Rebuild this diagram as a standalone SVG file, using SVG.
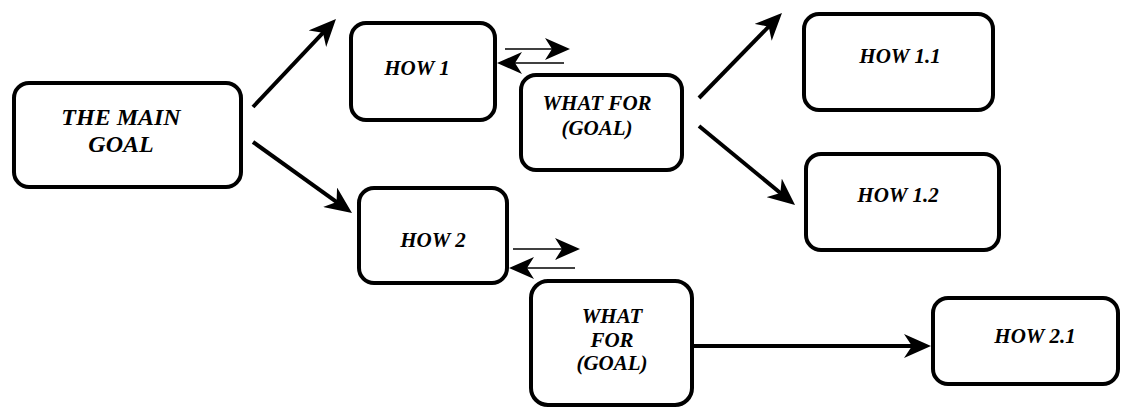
<svg xmlns="http://www.w3.org/2000/svg" width="1128" height="408" viewBox="0 0 1128 408">
  <style>
    .box { fill: #ffffff; stroke: #000000; stroke-width: 4; }
    .lbl { font-family: 'Liberation Serif', 'DejaVu Serif', serif; font-weight: 700; font-style: italic; font-size: 21px; fill: #000000; text-anchor: middle; }
    .big { font-size: 24px; }
    .thick { stroke: #000000; stroke-width: 4; fill: none; marker-end: url(#headBig); }
    .thin { stroke: #000000; stroke-width: 1.6; fill: none; marker-end: url(#headSmall); }
  </style>
  <defs>
    <marker id="headBig" markerUnits="userSpaceOnUse" viewBox="0 0 27 24" markerWidth="27" markerHeight="24" refX="10" refY="12" orient="auto">
      <path d="M0,0 L27,12 L0,24 L8,12 Z" fill="#000000"/>
    </marker>
    <marker id="headSmall" markerUnits="userSpaceOnUse" viewBox="0 0 25 22" markerWidth="25" markerHeight="22" refX="8" refY="11" orient="auto">
      <path d="M0,0 L25,11 L0,22 L7,11 Z" fill="#000000"/>
    </marker>
  </defs>
  <rect width="1128" height="408" fill="#ffffff"/>

  <g id="connectors">
    <line class="thick" x1="253" y1="107" x2="324.3" y2="31.4"/>
    <line class="thick" x1="253" y1="142" x2="338.2" y2="203.1"/>
    <line class="thick" x1="699" y1="98" x2="770.1" y2="25.2"/>
    <line class="thick" x1="699" y1="126" x2="781.9" y2="194.2"/>
    <line class="thick" x1="692" y1="346" x2="914" y2="346"/>
    <line class="thin" x1="505" y1="49" x2="553" y2="49"/>
    <line class="thin" x1="564" y1="63" x2="514" y2="63"/>
    <line class="thin" x1="513" y1="249" x2="563" y2="249"/>
    <line class="thin" x1="575" y1="268" x2="526" y2="268"/>
  </g>

  <g id="main-goal">
    <rect class="box" x="14" y="83" width="227" height="104" rx="15"/>
    <text class="lbl big" x="121" y="125">THE MAIN</text>
    <text class="lbl big" x="121" y="152">GOAL</text>
  </g>

  <g id="how1">
    <rect class="box" x="351" y="23" width="144" height="97" rx="15"/>
    <text class="lbl" x="417" y="75">HOW 1</text>
  </g>

  <g id="whatfor1">
    <rect class="box" x="521" y="75" width="161" height="95" rx="15"/>
    <text class="lbl" x="597" y="110">WHAT FOR</text>
    <text class="lbl" x="597" y="135">(GOAL)</text>
  </g>

  <g id="how11">
    <rect class="box" x="804" y="14" width="189" height="96" rx="15"/>
    <text class="lbl" x="900" y="63">HOW 1.1</text>
  </g>

  <g id="how12">
    <rect class="box" x="806" y="154" width="193" height="96" rx="15"/>
    <text class="lbl" x="898" y="202">HOW 1.2</text>
  </g>

  <g id="how2">
    <rect class="box" x="359" y="188" width="148" height="95" rx="15"/>
    <text class="lbl" x="433" y="247">HOW 2</text>
  </g>

  <g id="whatfor2">
    <rect class="box" x="531" y="281" width="161" height="124" rx="17"/>
    <text class="lbl" x="612" y="323">WHAT</text>
    <text class="lbl" x="612" y="347">FOR</text>
    <text class="lbl" x="612" y="370">(GOAL)</text>
  </g>

  <g id="how21">
    <rect class="box" x="933" y="298" width="185" height="86" rx="15"/>
    <text class="lbl" x="1035" y="343">HOW 2.1</text>
  </g>
</svg>
